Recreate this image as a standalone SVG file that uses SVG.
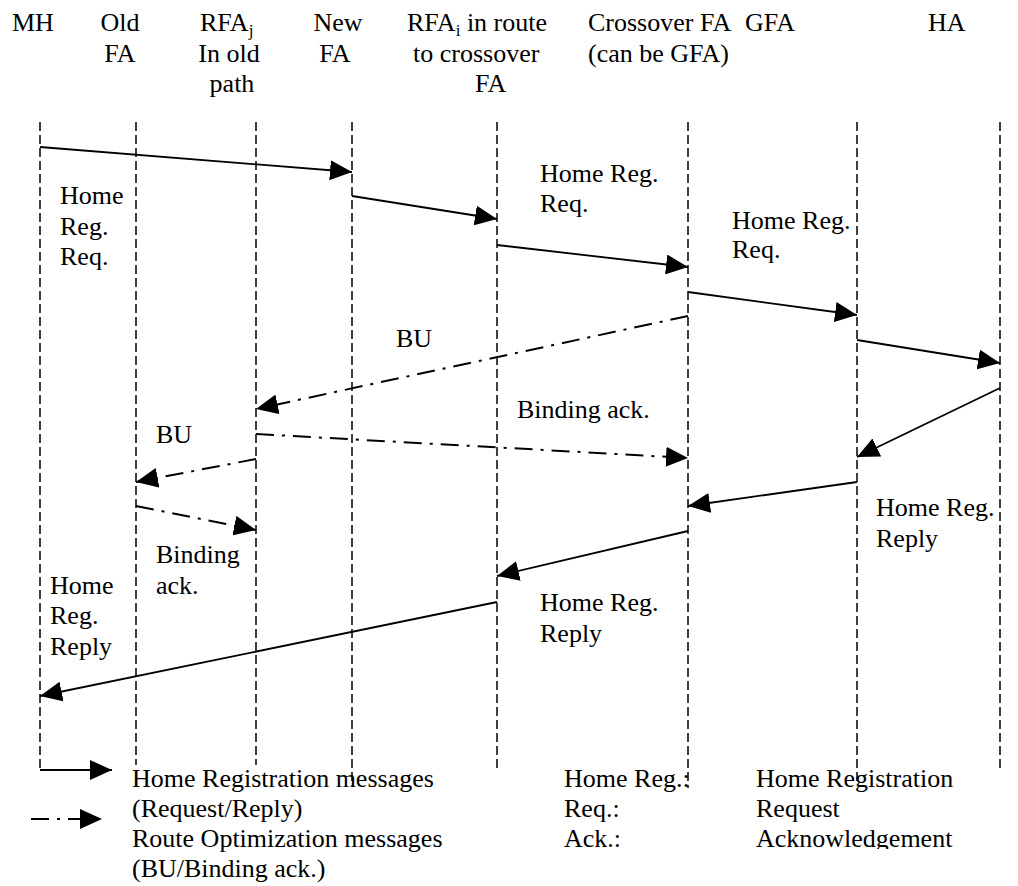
<svg xmlns="http://www.w3.org/2000/svg" width="1018" height="886" viewBox="0 0 1018 886">
  <style>
    text { font-family: "Liberation Serif", "Times New Roman", serif; font-size: 26px; fill: #000; }
    .mid { text-anchor: middle; }
    .life { stroke: #000; stroke-width: 1.5; stroke-dasharray: 9 4; fill: none; }
    .msg { stroke: #000; stroke-width: 1.8; fill: none; marker-end: url(#head); }
    .ro { stroke: #000; stroke-width: 2; fill: none; stroke-dasharray: 18 8 3 8; marker-end: url(#head); }
    .sub { font-size: 17px; }
  </style>
  <defs>
    <marker id="head" viewBox="0 0 22 20" refX="22" refY="10" markerWidth="22" markerHeight="20" markerUnits="userSpaceOnUse" orient="auto">
      <path d="M0,0 L22,10 L0,20 z" fill="#000"/>
    </marker>
    <clipPath id="cutBottom">
      <rect x="700" y="760" width="318" height="89"/>
    </clipPath>
  </defs>
  <rect width="1018" height="886" fill="#fff"/>

  <!-- entities with their lifelines -->
  <g id="mh">
    <text x="12" y="31">MH</text>
    <path class="life" d="M40,122 V770"/>
  </g>
  <g id="old-fa">
    <text class="mid" x="120" y="31">Old</text>
    <text class="mid" x="120" y="62">FA</text>
    <path class="life" d="M136,122 V765"/>
  </g>
  <g id="rfa-j">
    <text x="200" y="31">RFA<tspan class="sub" dy="5">j</tspan></text>
    <text class="mid" x="229" y="62">In old</text>
    <text class="mid" x="232" y="92">path</text>
    <path class="life" d="M256,122 V765"/>
  </g>
  <g id="new-fa">
    <text class="mid" x="338" y="31">New</text>
    <text class="mid" x="335" y="62">FA</text>
    <path class="life" d="M352,122 V786"/>
  </g>
  <g id="rfa-i">
    <text x="407" y="31">RFA<tspan class="sub" dy="5">i</tspan><tspan dy="-5"> in route</tspan></text>
    <text x="413" y="62">to crossover</text>
    <text x="475" y="92">FA</text>
    <path class="life" d="M497,122 V772"/>
  </g>
  <g id="crossover-fa">
    <text x="588" y="31">Crossover FA</text>
    <text x="588" y="62">(can be GFA)</text>
    <path class="life" d="M688,122 V788"/>
  </g>
  <g id="gfa">
    <text x="745" y="31">GFA</text>
    <path class="life" d="M857,122 V784"/>
  </g>
  <g id="ha">
    <text x="928" y="31">HA</text>
    <path class="life" d="M1000,122 V772"/>
  </g>

  <!-- messages -->
  <g id="connectors">
    <!-- home registration request chain -->
    <path class="msg" d="M40,147 L352,172"/>
    <path class="msg" d="M352,196 L497,219"/>
    <path class="msg" d="M497,245 L688,267"/>
    <path class="msg" d="M688,292 L857,315"/>
    <path class="msg" d="M857,340 L1000,363"/>
    <!-- route optimization -->
    <path class="ro" d="M688,316 L256,409"/>
    <path class="ro" d="M256,434 L688,458"/>
    <path class="ro" d="M256,459 L136,482"/>
    <path class="ro" d="M136,506 L256,530"/>
    <!-- home registration reply chain -->
    <path class="msg" d="M1000,388 L857,457"/>
    <path class="msg" d="M857,482 L688,506"/>
    <path class="msg" d="M688,531 L497,576"/>
    <path class="msg" d="M497,602 L40,696"/>
    <!-- legend arrows -->
    <path class="msg" d="M40,770 L112,770"/>
    <path class="ro" d="M31,819 L102,819"/>
  </g>

  <!-- message labels -->
  <g id="labels">
    <text x="60" y="204">Home</text>
    <text x="60" y="235">Reg.</text>
    <text x="60" y="265">Req.</text>

    <text x="540" y="182">Home Reg.</text>
    <text x="540" y="212">Req.</text>

    <text x="732" y="229">Home Reg.</text>
    <text x="732" y="258">Req.</text>

    <text x="396" y="347">BU</text>
    <text x="517" y="418">Binding ack.</text>
    <text x="156" y="443">BU</text>

    <text x="156" y="563">Binding</text>
    <text x="156" y="594">ack.</text>

    <text x="876" y="516">Home Reg.</text>
    <text x="876" y="547">Reply</text>

    <text x="50" y="594">Home</text>
    <text x="50" y="624">Reg.</text>
    <text x="50" y="655">Reply</text>

    <text x="540" y="611">Home Reg.</text>
    <text x="540" y="642">Reply</text>
  </g>

  <!-- legend -->
  <g id="legend">
    <text x="132" y="787">Home Registration messages</text>
    <text x="132" y="817">(Request/Reply)</text>
    <text x="132" y="847">Route Optimization messages</text>
    <text x="132" y="877">(BU/Binding ack.)</text>

    <text x="564" y="787">Home Reg.:</text>
    <text x="564" y="817">Req.:</text>
    <text x="564" y="847">Ack.:</text>

    <g clip-path="url(#cutBottom)">
      <text x="756" y="787">Home Registration</text>
      <text x="756" y="817">Request</text>
      <text x="756" y="847">Acknowledgement</text>
    </g>
  </g>
</svg>
